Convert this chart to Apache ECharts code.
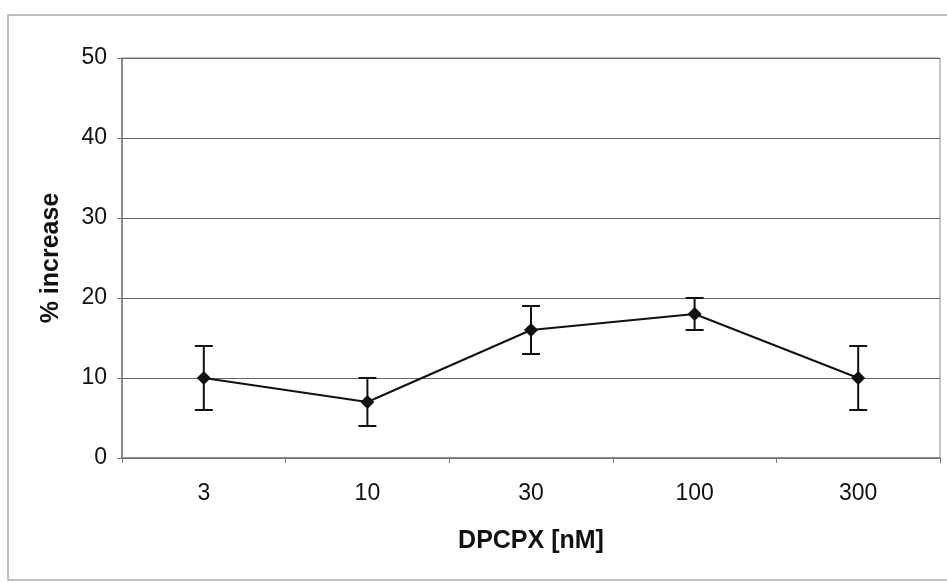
<!DOCTYPE html>
<html>
<head>
<meta charset="utf-8">
<script src="https://cdn.jsdelivr.net/npm/echarts@6/dist/echarts.min.js"></script>
<style>
  html, body { margin: 0; padding: 0; background: #fff; }
  #chart { width: 947px; height: 583px; }
</style>
</head>
<body>
<div id="chart"></div>
<script>
const categories = ['3', '10', '30', '100', '300']
const meanValues = [10, 7, 16, 18, 10]
const errLow = [6, 4, 13, 16, 6]
const errHigh = [14, 10, 19, 20, 14]
const yTicks = [0, 10, 20, 30, 40, 50]

const chart = echarts.init(document.getElementById('chart'))
const font = 'Liberation Sans, Arial, sans-serif'

chart.setOption({
  animation: false,
  graphic: [
    {
      type: 'rect',
      shape: { x: 8, y: 15, width: 960, height: 565 },
      style: { fill: 'none', stroke: '#aaa', lineWidth: 1.5 },
      z: -1
    }
  ],
  grid: {
    left: 122, right: 7, top: 58, bottom: 125,
    show: true, borderColor: '#888', borderWidth: 1
  },
  xAxis: {
    type: 'category',
    data: categories,
    boundaryGap: true,
    name: 'DPCPX [nM]',
    nameLocation: 'middle',
    nameGap: 71,
    nameTextStyle: { fontFamily: font, fontSize: 25, fontWeight: 'bold', color: '#111' },
    axisLine: { lineStyle: { color: '#777', width: 1.5 } },
    axisTick: { show: true, length: 5, lineStyle: { color: '#777' } },
    axisLabel: { fontFamily: font, fontSize: 23, color: '#111', margin: 24 }
  },
  yAxis: {
    type: 'value',
    min: 0,
    max: 50,
    interval: 10,
    name: '% increase',
    nameLocation: 'middle',
    nameGap: 58,
    nameTextStyle: { fontFamily: font, fontSize: 25, fontWeight: 'bold', color: '#111' },
    axisLine: { show: true, lineStyle: { color: '#777', width: 1.5 } },
    axisTick: { show: true, length: 5, lineStyle: { color: '#777' } },
    axisLabel: {
      fontFamily: font, fontSize: 23, color: '#111', margin: 15,
      formatter: v => (yTicks.indexOf(v) >= 0 ? String(v) : '')
    },
    splitLine: { show: true, lineStyle: { color: '#666', width: 1 } }
  },
  series: [
    {
      type: 'custom',
      data: categories.map((c, i) => [i, errLow[i], errHigh[i]]),
      renderItem(params, api) {
        const i = api.value(0)
        const lo = api.coord([i, api.value(1)])
        const hi = api.coord([i, api.value(2)])
        const w = 9
        const st = { stroke: '#111', lineWidth: 2 }
        return {
          type: 'group',
          children: [
            { type: 'line', shape: { x1: lo[0], y1: lo[1], x2: hi[0], y2: hi[1] }, style: st },
            { type: 'line', shape: { x1: lo[0] - w, y1: lo[1], x2: lo[0] + w, y2: lo[1] }, style: st },
            { type: 'line', shape: { x1: hi[0] - w, y1: hi[1], x2: hi[0] + w, y2: hi[1] }, style: st }
          ]
        }
      },
      z: 3
    },
    {
      type: 'line',
      data: meanValues,
      symbol: 'diamond',
      symbolSize: 14,
      itemStyle: { color: '#111' },
      lineStyle: { color: '#111', width: 2 },
      z: 4
    }
  ]
})
</script>
</body>
</html>
